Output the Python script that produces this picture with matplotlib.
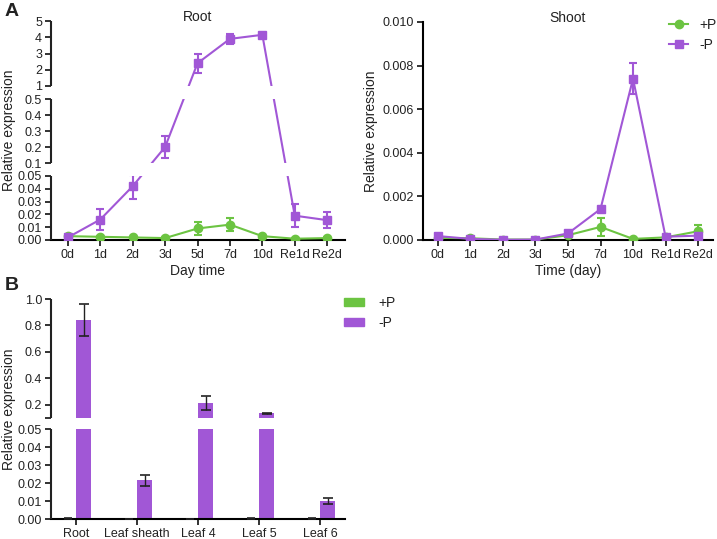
import numpy as np
import matplotlib.pyplot as plt
from matplotlib.lines import Line2D
from matplotlib.patches import Patch

plt.rcParams['font.family'] = ['Liberation Sans', 'DejaVu Sans']
plt.rcParams['text.color'] = '#222222'
plt.rcParams['axes.labelcolor'] = '#222222'
plt.rcParams['xtick.color'] = '#222222'
plt.rcParams['ytick.color'] = '#222222'

GREEN = '#6cc442'
PURPLE = '#a157d6'

# time course (panel A)
days = ["0d", "1d", "2d", "3d", "5d", "7d", "10d", "Re1d", "Re2d"]

root_plus = [0.003, 0.0025, 0.002, 0.0015, 0.009, 0.012, 0.003, 0.001, 0.0015]
root_plus_err = [0.001, 0.0008, 0.0005, 0.0005, 0.005, 0.005, 0.001, 0.0005, 0.0005]
root_minus = [0.002, 0.016, 0.042, 0.2, 2.4, 3.9, 4.15, 0.019, 0.0155]
root_minus_err = [0.001, 0.008, 0.010, 0.07, 0.6, 0.3, 0.1, 0.009, 0.006]

shoot_plus = [0.0001, 0.00008, 0.00002, 0.00002, 0.00022, 0.0006, 0.00005, 0.00012, 0.0004]
shoot_plus_err = [0.00003, 0.00003, 0.00001, 0.00001, 0.00005, 0.0004, 0.00002, 0.00003, 0.0003]
shoot_minus = [0.00018, 0.00005, 0.00001, 0.00002, 0.0003, 0.00142, 0.0074, 0.00015, 0.0002]
shoot_minus_err = [0.00003, 0.00002, 0.00001, 0.00001, 0.00004, 0.0001, 0.0007, 0.00003, 0.00005]

# tissues (panel B)
tissues = ["Root", "Leaf sheath", "Leaf 4", "Leaf 5", "Leaf 6"]
tissue_plus = [0.0003, 0.0001, 0.0001, 0.0003, 0.0002]
tissue_plus_err = [0.0001, 0.0, 0.0, 0.0001, 0.0001]
tissue_minus = [0.84, 0.0215, 0.215, 0.135, 0.0098]
tissue_minus_err = [0.12, 0.003, 0.055, 0.003, 0.0017]

TICK_FS = 9
LABEL_FS = 10


def broken_scale(data_knots, disp_knots):
    def fwd(v):
        return np.interp(v, data_knots, disp_knots)

    def inv(v):
        return np.interp(v, disp_knots, data_knots)
    return fwd, inv


def gaps_of(segments):
    segs = sorted(segments)
    return [(segs[i][1], segs[i + 1][0]) for i in range(len(segs) - 1)]


def style_axes(ax, segments=None):
    for s in ['top', 'right']:
        ax.spines[s].set_visible(False)
    ax.spines['bottom'].set_linewidth(1.5)
    ax.tick_params(axis='both', direction='out', length=4, width=1.3,
                   labelsize=TICK_FS, pad=2.5)
    if segments is None:
        ax.spines['left'].set_linewidth(1.5)
    else:
        ax.spines['left'].set_visible(False)
        for lo, hi in segments:
            ax.plot([0, 0], [lo, hi], transform=ax.get_yaxis_transform(),
                    color='#222222', lw=1.5, clip_on=False, zorder=6,
                    solid_capstyle='butt')
        for lo, hi in gaps_of(segments):
            ax.axhspan(lo, hi, color='white', zorder=4, lw=0)


fig = plt.figure(figsize=(7.17, 5.39), dpi=100)

# ---- Root ----
ax1 = fig.add_axes([51 / 717, 1 - 240 / 539, 294 / 717, 219 / 539])
ax1.set_yscale('function', functions=broken_scale([0, 0.05, 0.1, 0.5, 1, 5],
                                                  [0, 64, 77, 141, 154, 219]))
x = np.arange(len(days))
ax1.errorbar(x, root_plus, yerr=root_plus_err, color=GREEN, marker='o', ms=6,
             lw=1.5, capsize=3, elinewidth=1.5, capthick=1.5, zorder=3)
ax1.errorbar(x, root_minus, yerr=root_minus_err, color=PURPLE, marker='s', ms=6,
             lw=1.5, capsize=3, elinewidth=1.5, capthick=1.5, zorder=3)
ax1.set_ylim(0, 5)
ax1.set_xlim(-0.52, 8.55)
root_ticks = [0, 0.01, 0.02, 0.03, 0.04, 0.05, 0.1, 0.2, 0.3, 0.4, 0.5, 1, 2, 3, 4, 5]
root_labels = ["0.00", "0.01", "0.02", "0.03", "0.04", "0.05", "0.1", "0.2", "0.3",
               "0.4", "0.5", "1", "2", "3", "4", "5"]
ax1.set_yticks(root_ticks, root_labels)
ax1.set_xticks(x, days)
style_axes(ax1, segments=[(0, 0.05), (0.1, 0.5), (1, 5)])
ax1.set_xlabel("Day time", fontsize=LABEL_FS, labelpad=2)
ax1.set_ylabel("Relative expression", fontsize=LABEL_FS)
ax1.yaxis.set_label_coords(-0.12, 0.5)
ax1.text(0.5, 1.018, "Root", transform=ax1.transAxes, ha='center', va='center',
         fontsize=LABEL_FS)

# ---- Shoot ----
ax2 = fig.add_axes([423 / 717, 1 - 240 / 539, 290 / 717, 218 / 539])
ax2.errorbar(x, shoot_plus, yerr=shoot_plus_err, color=GREEN, marker='o', ms=6,
             lw=1.5, capsize=3, elinewidth=1.5, capthick=1.5, zorder=3)
ax2.errorbar(x, shoot_minus, yerr=shoot_minus_err, color=PURPLE, marker='s', ms=6,
             lw=1.5, capsize=3, elinewidth=1.5, capthick=1.5, zorder=3)
ax2.set_ylim(0, 0.010)
ax2.set_xlim(-0.46, 8.46)
ax2.set_yticks(np.arange(0, 0.0101, 0.002),
               ["0.000", "0.002", "0.004", "0.006", "0.008", "0.010"])
ax2.set_xticks(x, days)
style_axes(ax2)
ax2.set_xlabel("Time (day)", fontsize=LABEL_FS, labelpad=2)
ax2.set_ylabel("Relative expression", fontsize=LABEL_FS)
ax2.yaxis.set_label_coords(-0.155, 0.5)
ax2.text(0.5, 1.018, "Shoot", transform=ax2.transAxes, ha='center', va='center',
         fontsize=LABEL_FS)

line_handles = [Line2D([], [], color=GREEN, marker='o', ms=6, lw=1.5),
                Line2D([], [], color=PURPLE, marker='s', ms=6, lw=1.5)]
fig.legend(line_handles, ['+P', '-P'], loc='upper left',
           bbox_to_anchor=(669 / 717, 1 - 18 / 539), frameon=False, fontsize=LABEL_FS,
           handlelength=1.4, handletextpad=0.8, labelspacing=0.45,
           borderpad=0, borderaxespad=0)

# ---- Tissues ----
ax3 = fig.add_axes([51 / 717, 1 - 519 / 539, 294 / 717, 220 / 539])
ax3.set_yscale('function', functions=broken_scale([0, 0.05, 0.1, 1.0],
                                                  [0, 90, 101, 220]))
xt = np.arange(len(tissues))
w = 0.25
ax3.bar(xt - w / 2, tissue_plus, w, color=GREEN, zorder=2)
ax3.errorbar(xt - w / 2, tissue_plus, yerr=tissue_plus_err, fmt='none', ecolor='#222222',
             elinewidth=1, capsize=3, capthick=1.2, zorder=3)
ax3.bar(xt + w / 2, tissue_minus, w, color=PURPLE, zorder=2)
ax3.errorbar(xt + w / 2, tissue_minus, yerr=tissue_minus_err, fmt='none', ecolor='#222222',
             elinewidth=1, capsize=3.5, capthick=1.2, zorder=3)
ax3.set_ylim(0, 1.0)
ax3.set_xlim(-0.41, 4.41)
ax3.set_yticks([0, 0.01, 0.02, 0.03, 0.04, 0.05, 0.2, 0.4, 0.6, 0.8, 1.0],
               ["0.00", "0.01", "0.02", "0.03", "0.04", "0.05", "0.2", "0.4", "0.6", "0.8", "1.0"])
ax3.set_yticks([0.1], minor=True)
ax3.tick_params(axis='y', which='minor', length=4, width=1.3)
ax3.set_xticks(xt, tissues)
style_axes(ax3, segments=[(0, 0.05), (0.1, 1.0)])
ax3.set_ylabel("Relative expression", fontsize=LABEL_FS)
ax3.yaxis.set_label_coords(-0.12, 0.5)

bar_handles = [Patch(color=GREEN), Patch(color=PURPLE)]
fig.legend(bar_handles, ['+P', '-P'], loc='upper left',
           bbox_to_anchor=(344 / 717, 1 - 296 / 539), frameon=False, fontsize=LABEL_FS,
           handlelength=1.45, handleheight=0.5, handletextpad=1.0, labelspacing=0.45,
           borderpad=0, borderaxespad=0)

fig.text(12 / 717, 1 - 12 / 539, "A", fontsize=14, fontweight='bold', ha='center', va='center')
fig.text(12 / 717, 1 - 286 / 539, "B", fontsize=14, fontweight='bold', ha='center', va='center')

fig.savefig("out.png", dpi=100)
